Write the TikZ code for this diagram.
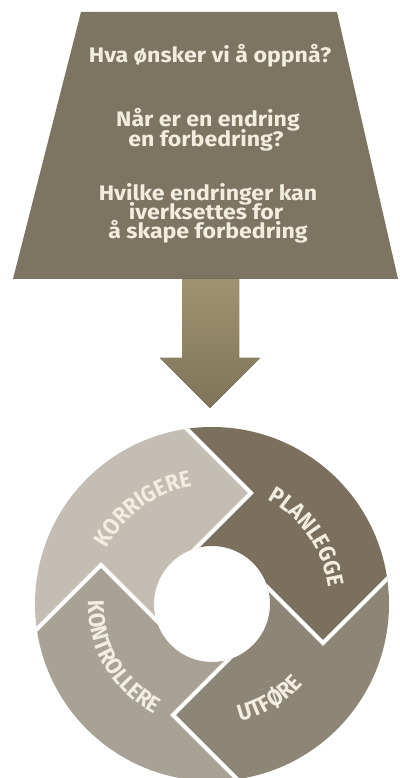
\documentclass[tikz,border=0pt]{standalone}
\usepackage{fontspec}
\setmainfont{Fira Sans}
\newfontfamily\qff{Fira Sans}[FakeStretch=1.1]
\newfontfamily\rff{Fira Sans}[FakeStretch=0.92]
\usetikzlibrary{decorations.text}
\definecolor{trapc}{HTML}{7D7461}
\definecolor{txtc}{HTML}{F2EDDF}
\definecolor{arrtop}{HTML}{A09373}
\definecolor{arrbot}{HTML}{7F7458}
\definecolor{planc}{HTML}{7A705D}
\definecolor{utc}{HTML}{8D8576}
\definecolor{konc}{HTML}{A8A196}
\definecolor{korc}{HTML}{C3BDB4}
\newcommand{\qfont}{\qff\fontsize{21}{21}\selectfont\bfseries}
\newcommand{\rfont}{\rff\fontsize{23}{23}\selectfont\bfseries}
\tikzset{
  qline/.style={text=txtc, anchor=base, inner sep=0pt, font=\qfont},
  ringlabel/.style={decorate, decoration={text along path, text align=center, text color=txtc, text={|\rfont|#1}}},
  divider/.style={draw=white, line width=4pt, line join=miter}
}
\begin{document}
\begin{tikzpicture}[x=1pt,y=1pt]
\useasboundingbox (0,0) rectangle (399,778);
% question block
\fill[trapc] (81,766) -- (337,766) -- (398,499) -- (13,499) -- cycle;
\node[qline] (q1) at (210,715) {Hva ønsker vi å oppnå?};
\node[qline] (q2) at (208,651) {Når er en endring};
\node[qline] (q3) at (206,631) {en forbedring?};
\node[qline] (q4) at (208,577) {Hvilke endringer kan};
\node[qline] (q5) at (206,558) {iverksettes for};
\node[qline] (q6) at (208,539) {å skape forbedring};
% arrow
\fill[top color=arrtop, bottom color=arrbot] (182,499) -- (239,499) -- (239,420) -- (260,420) -- (210,370) -- (160,420) -- (182,420) -- cycle;
% cycle ring
\begin{scope}[shift={(212,174)}]
  \begin{scope}[even odd rule]
    \clip (0,0) circle[radius=177] (0,0) circle[radius=58];
    \foreach \c/\r in {planc/0, utc/-90, konc/-180, korc/-270}
      \fill[\c, rotate=\r] (39,111) -- (-20,52) -- (0,0) -- (52,20) -- (111,-39) -- (323,173) -- (323,323) -- (-173,323) -- cycle;
    \foreach \r in {0,-90,-180,-270}
      \draw[divider, rotate=\r] (-80,230) -- (39,111) -- (-20,52);
  \end{scope}
  \path[ringlabel=PLANLEGGE] (75:118) arc[start angle=75, end angle=-5, radius=118];
  \path[ringlabel=KORRIGERE] (166:119) arc[start angle=166, end angle=86, radius=119];
  \path[ringlabel=KONTROLLERE] (160:124) arc[start angle=160, end angle=261, radius=124];
  \path[ringlabel=UTFØRE] (-104:121) arc[start angle=-104, end angle=-14, radius=121];
\end{scope}
\end{tikzpicture}
\end{document}
